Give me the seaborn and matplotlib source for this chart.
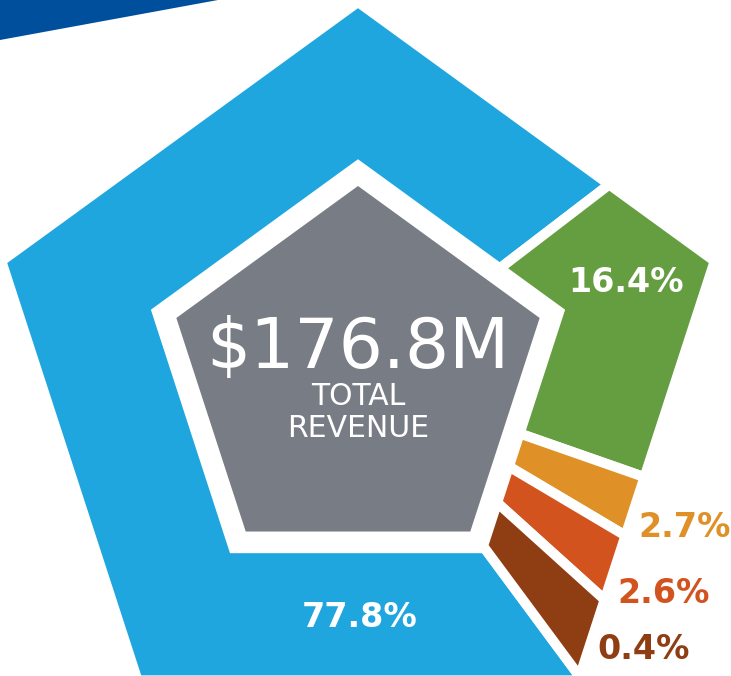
import numpy as np
import matplotlib.pyplot as plt
from matplotlib.patches import Polygon
import seaborn as sns

# revenue split, in the order the slices run clockwise starting with the big one
shares = [77.8, 16.4, 2.7, 2.6, 0.4]
share_labels = ["77.8%", "16.4%", "2.7%", "2.6%", "0.4%"]
slice_colors = ["#1fa6df", "#659e41", "#df9127", "#d3531f", "#8f3e14"]
label_colors = ["white", "white", "#df9127", "#d3531f", "#8f3e14"]
total_value = "$176.8M"
total_caption = ["TOTAL", "REVENUE"]

sns.set_theme(style="white")
plt.rcParams['font.family'] = ['DejaVu Sans']

# geometry of the pentagon ring (pixel units)
cx, cy = 358, 377
R_out, R_in, R_core = 370, 216.6, 191
gap = 10          # white gap between slices, px
min_share = 3.3   # tiny slices get a minimum width so they stay visible
start = 143.5     # angle (deg, clockwise from top) where the big slice begins


def pent_radius(theta, R):
    apothem = R * np.cos(np.radians(36))
    k = np.round((theta - 36) / 72)
    phi = 36 + 72 * k
    return apothem / np.cos(np.radians(theta - phi))


def pent_point(theta, R):
    r = pent_radius(theta, R)
    t = np.radians(theta)
    return cx + r * np.sin(t), cy - r * np.cos(t)


def ring_slice(a1, a2, r_in, r_out):
    verts = [v for v in np.arange(np.ceil(a1 / 72) * 72, a2, 72) if a1 < v < a2]
    angs = [a1] + verts + [a2]
    outer = [pent_point(a, r_out) for a in angs]
    inner = [pent_point(a, r_in) for a in angs[::-1]]
    return outer + inner


fig = plt.figure(figsize=(7.31, 6.76), dpi=100)
ax = fig.add_axes([0, 0, 1, 1])
ax.set_xlim(0, 731)
ax.set_ylim(676, 0)
ax.axis('off')

# dark blue band in the top-left corner
ax.add_patch(Polygon([(0, 0), (218, 0), (0, 40)], closed=True,
                     facecolor="#004f9c", edgecolor="none"))

disp = np.maximum(np.array(shares), min_share)
spans = disp / disp.sum() * 360
lw_pt = gap * 72 / 100

a = start
for span, col in zip(spans, slice_colors):
    pts = ring_slice(a, a + span, R_in - gap / 2, R_out + gap / 2)
    ax.add_patch(Polygon(pts, closed=True, facecolor=col, edgecolor="white",
                         linewidth=lw_pt, joinstyle="miter"))
    a += span

# grey core
core = [pent_point(t, R_core) for t in range(0, 360, 72)]
ax.add_patch(Polygon(core, closed=True, facecolor="#787c84", edgecolor="none"))

ax.text(cx, 368, total_value, ha="center", va="baseline", color="white",
        fontsize=50)
ax.text(cx, 405, total_caption[0], ha="center", va="baseline", color="white",
        fontsize=21.5)
ax.text(cx, 437, total_caption[1], ha="center", va="baseline", color="white",
        fontsize=21.5)

# label anchors: (x, baseline y, horizontal alignment)
label_pos = [(360, 627, "center"), (626, 292, "center"),
             (638, 537, "left"), (617, 603, "left"), (597, 659, "left")]
for lab, col, (x, y, ha) in zip(share_labels, label_colors, label_pos):
    ax.text(x, y, lab, ha=ha, va="baseline", color=col, fontsize=24,
            fontweight="bold")

plt.savefig("out.png", dpi=100)
